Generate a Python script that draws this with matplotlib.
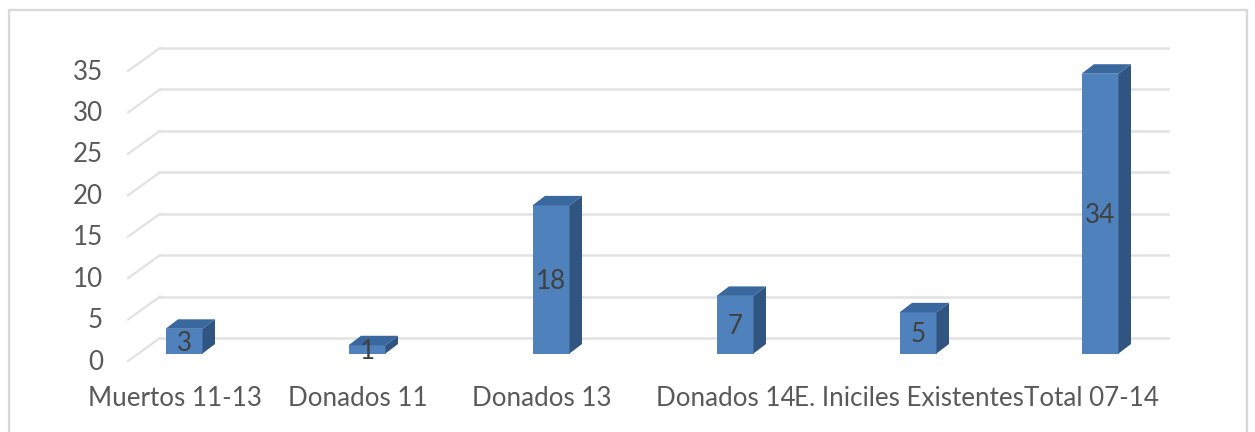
import matplotlib
matplotlib.use("Agg")
import matplotlib.pyplot as plt
from matplotlib.patches import Polygon, Rectangle

categories = ["Muertos 11-13", "Donados 11", "Donados 13", "Donados 14", "E. Iniciles Existentes", "Total 07-14"]
values = [3, 1, 18, 7, 5, 34]
y_ticks = [0, 5, 10, 15, 20, 25, 30, 35]

plt.rcParams["font.family"] = ["Lato", "DejaVu Sans"]

W, H = 1255, 432
fig = plt.figure(figsize=(W / 100, H / 100), dpi=100)
ax = fig.add_axes([0, 0, 1, 1])
ax.set_xlim(0, W)
ax.set_ylim(H, 0)
ax.axis("off")

# marco exterior, sin linea abajo
ax.plot([8.5, 8.5, 1247, 1247], [432, 10, 10, 432], color="#d9d9d9", lw=1.6)

grid_unit = 290 / 35.0  # pixeles por unidad
bar_unit = 288 / 35.0
fs = 18.7


def back_y(v):
    return 338 - v * grid_unit


def bar_y(v):
    return 353.5 - v * bar_unit


dx, dy = 32, 23
left, right = 128, 1136
for t in y_ticks:
    y = back_y(t)
    ax.plot([left, left + dx], [y + dy, y], color="#e2e2e2", lw=1.6)
    ax.plot([left + dx, right + dx], [y, y], color="#e2e2e2", lw=1.8)
    ax.text(103, y + dy + 1, str(t), ha="right", va="center", fontsize=fs, color="#595959")

centers = [184, 367, 551, 735, 918, 1100]
bw, bx, by = 37, 12.5, 9.5
for c, v, name in zip(centers, values, categories):
    x0 = c - bw / 2
    x1 = c + bw / 2
    top = bar_y(v)
    ax.add_patch(Rectangle((x0, top), bw, 353.5 - top, fc="#4f81bd", ec="none", zorder=3))
    ax.add_patch(Polygon([(x1, top), (x1 + bx, top - by), (x1 + bx, 353.5 - by), (x1, 353.5)],
                         fc="#2f5580", ec="none", zorder=3))
    ax.add_patch(Polygon([(x0, top), (x0 + bx, top - by), (x1 + bx, top - by), (x1, top)],
                         fc="#39689f", ec="none", zorder=3))
    ax.text(c, (top + 353.5) / 2 + 2, str(v), ha="center", va="center", fontsize=fs,
            color="#404040", zorder=4)
    ax.text(c - 9, 398, name, ha="center", va="center", fontsize=fs, color="#595959", zorder=5)

fig.savefig("out.png", dpi=100)
